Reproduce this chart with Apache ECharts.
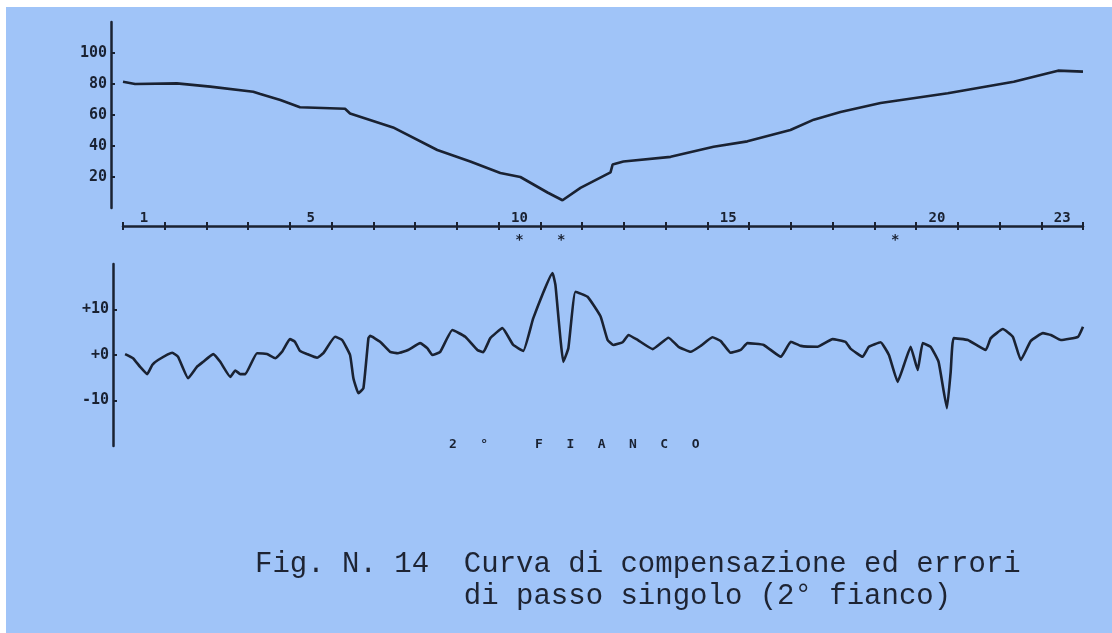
<!DOCTYPE html>
<html><head><meta charset="utf-8">
<script src="https://cdn.jsdelivr.net/npm/echarts@6/dist/echarts.min.js"></script>
<style>
html,body{margin:0;padding:0;background:#ffffff;width:1112px;height:633px;overflow:hidden}
#c{position:absolute;left:6px;top:7px;width:1106px;height:626px}
</style></head>
<body><div id="c"></div>
<script>
// ---- data ----
const toothLabels = ['1','2','3','4','5','6','7','8','9','10','11','12','13','14','15','16','17','18','19','20','21','22','23'];
const labeledTeeth = [1, 5, 10, 15, 20, 23];
const starredTeeth = [10, 11, 19];
const topTicks = [20, 40, 60, 80, 100];
const bottomTicks = [-10, 0, 10];

// compensation curve (position in tooth pitches, value)
const compPos = [0.0, 0.29, 1.29, 2.09, 3.12, 3.29, 3.77, 4.24, 5.32, 5.44, 6.47, 7.53, 8.32, 9.04, 9.52, 10.17, 10.53, 10.96, 11.68, 11.73, 11.99, 13.12, 14.15, 14.96, 15.99, 16.55, 17.19, 18.15, 19.76, 21.34, 22.4, 23.0];
const compVal = [81.5, 80, 80.4, 78.3, 75, 73.5, 69.7, 65, 64, 61, 52, 37.4, 30, 22.6, 20, 10, 5, 13, 23, 28, 30, 33, 39.5, 43, 50.3, 57, 62, 67.7, 74, 81.5, 88.6, 88];

// single pitch errors
const errPos = [0.05,0.24,0.41,0.58,0.70,0.84,1.18,1.32,1.56,1.77,
  1.92,2.16,2.33,2.57,2.69,2.81,2.93,3.21,3.45,3.65,
  3.81,4.00,4.12,4.24,4.41,4.65,4.80,5.08,5.25,5.44,
  5.52,5.64,5.76,5.88,5.92,6.16,6.40,6.59,6.83,7.12,
  7.29,7.41,7.60,7.89,8.20,8.49,8.63,8.80,9.09,9.35,
  9.59,9.83,10.29,10.36,10.55,10.67,10.84,11.13,11.44,11.61,
  11.75,11.97,12.11,12.33,12.69,13.07,13.31,13.60,13.84,14.12,
  14.32,14.56,14.80,14.96,15.35,15.76,16.00,16.24,16.64,17.00,
  17.31,17.43,17.72,17.87,18.15,18.35,18.56,18.71,18.87,19.04,
  19.16,19.35,19.54,19.74,19.83,19.90,20.24,20.67,20.79,21.08,
  21.32,21.51,21.75,22.04,22.23,22.47,22.88,23.0];
const errVal = [0.2,-0.7,-2.6,-4.2,-2.2,-1.1,0.5,-0.4,-5.1,-2.6,
  -1.5,0.2,-1.5,-4.8,-3.4,-4.2,-4.2,0.4,0.2,-0.7,
  0.7,3.5,2.9,0.9,0.2,-0.6,0.4,4.0,3.3,0,
  -5.1,-8.4,-7.3,3.7,4.2,2.9,0.7,0.4,1.1,2.6,
  1.5,0,0.7,5.5,4.0,1.1,0.6,3.7,5.9,2.2,
  0.9,8.1,18.0,15.4,-1.5,1.5,13.9,12.8,8.5,3.3,
  2.2,2.8,4.4,3.3,1.3,3.8,1.8,0.7,2.0,3.9,
  3.1,0.5,1.1,2.6,2.2,-0.4,2.9,2.0,1.8,3.5,
  2.9,1.4,-0.4,1.8,2.8,0,-5.9,-2.2,1.8,-3.3,
  2.6,1.8,-1.5,-11.7,-3.7,3.7,3.3,1.1,3.7,5.7,
  4.0,-1.1,3.1,4.8,4.4,3.3,4.0,6.2];

const flankText = '2   \u00b0      F   I   A   N   C   O';
const captionLine1 = 'Fig. N. 14  Curva di compensazione ed errori';
const captionLine2 = '            di passo singolo (2\u00b0 fianco)';

// ---- styling ----
const ink = '#1a2232';
const plotFont = {fontFamily: 'DejaVu Sans Mono', fontWeight: 'bold', fontSize: 15, color: ink};

const chart = echarts.init(document.getElementById('c'));
chart.setOption({
  backgroundColor: '#a0c4f8',
  animation: false,
  grid: [
    {left: 117, width: 960, top: 15, height: 186},
    {left: 117, width: 960, top: 257, height: 182}
  ],
  xAxis: [
    {type: 'value', gridIndex: 0, min: 0, max: 23, show: false},
    {type: 'category', gridIndex: 0, data: toothLabels, position: 'bottom', offset: 18, boundaryGap: true,
      axisLine: {show: true, onZero: false, lineStyle: {color: ink, width: 2.5}},
      axisTick: {show: true, inside: true, length: 4, interval: 0, lineStyle: {color: ink, width: 2}},
      axisLabel: Object.assign({inside: true, margin: 1,
        interval: (i) => labeledTeeth.indexOf(i + 1) >= 0}, plotFont, {fontSize: 14}),
      splitLine: {show: false}},
    {type: 'category', gridIndex: 0, data: toothLabels, position: 'bottom', offset: 18, boundaryGap: true,
      axisLine: {show: false, onZero: false},
      axisTick: {show: true, inside: false, length: 4, interval: 0, lineStyle: {color: ink, width: 2}},
      axisLabel: Object.assign({margin: 7, interval: 0,
        formatter: (v) => starredTeeth.indexOf(Number(v)) >= 0 ? '*' : ''}, plotFont, {fontSize: 14}),
      splitLine: {show: false}},
    {type: 'value', gridIndex: 1, min: 0, max: 23, show: false}
  ],
  yAxis: [
    {type: 'value', gridIndex: 0, min: 0, max: 120, offset: 12, position: 'left',
      axisLine: {show: true, onZero: false, lineStyle: {color: ink, width: 2.5}},
      axisTick: {show: true, inside: true, length: 4, customValues: topTicks, lineStyle: {color: ink, width: 2}},
      axisLabel: Object.assign({margin: 4, customValues: topTicks}, plotFont),
      splitLine: {show: false}},
    {type: 'value', gridIndex: 1, min: -20, max: 20, offset: 10, position: 'left',
      axisLine: {show: true, onZero: false, lineStyle: {color: ink, width: 2.5}},
      axisTick: {show: true, inside: true, length: 4, customValues: bottomTicks, lineStyle: {color: ink, width: 2}},
      axisLabel: Object.assign({margin: 4, customValues: bottomTicks,
        formatter: (v) => v >= 0 ? '+' + v : String(v)}, plotFont),
      splitLine: {show: false}}
  ],
  series: [
    {type: 'line', xAxisIndex: 0, yAxisIndex: 0, showSymbol: false, silent: true,
      data: compPos.map((p, i) => [p, compVal[i]]),
      lineStyle: {color: ink, width: 2.6}},
    {type: 'line', xAxisIndex: 3, yAxisIndex: 1, showSymbol: false, silent: true, smooth: 0.12,
      data: errPos.map((p, i) => [p, errVal[i]]),
      lineStyle: {color: ink, width: 2.6}}
  ],
  graphic: [
    {type: 'text', left: 443, top: 431, silent: true,
      style: {text: flankText, font: 'bold 13px "DejaVu Sans Mono"', fill: ink}},
    {type: 'text', left: 249, top: 543, silent: true,
      style: {text: captionLine1, font: '29px "Liberation Mono"', fill: '#1e2433'}},
    {type: 'text', left: 249, top: 575, silent: true,
      style: {text: captionLine2, font: '29px "Liberation Mono"', fill: '#1e2433'}}
  ]
});
</script></body></html>
